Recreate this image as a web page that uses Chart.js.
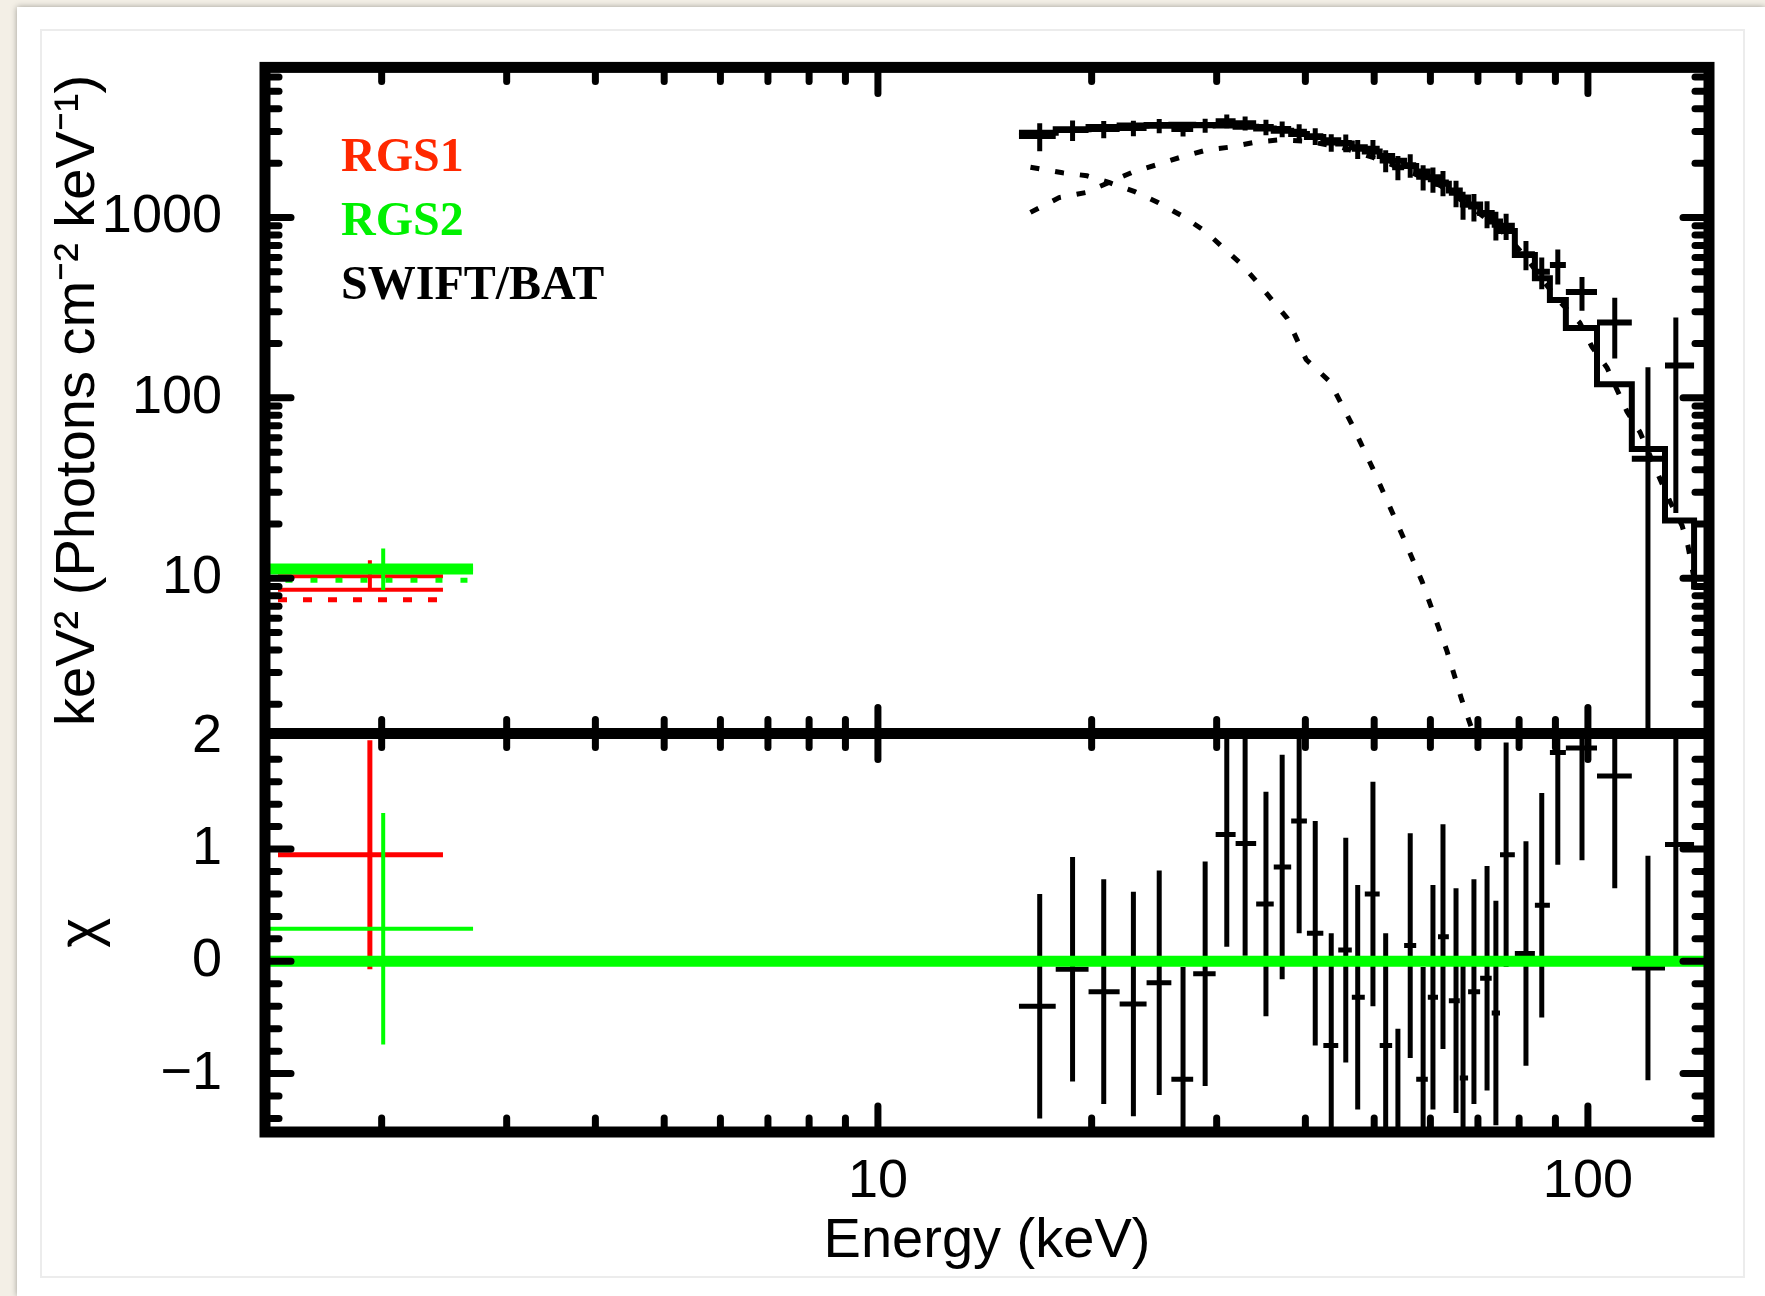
<!DOCTYPE html>
<html>
<head>
<meta charset="utf-8">
<title>RGS1, RGS2 and SWIFT/BAT spectrum</title>
<script src="https://cdn.jsdelivr.net/npm/chart.js@4.4.1/dist/chart.umd.min.js"></script>
<style>
    html, body { margin: 0; width: 1765px; height: 1296px; overflow: hidden; background: #f3efe6; }
    #sheet { position: absolute; left: 17px; top: 7px; width: 1748px; height: 1289px; background: #fff; box-shadow: 0 0 6px rgba(0, 0, 0, 0.35); }
    #inner { position: absolute; left: 40px; top: 29px; width: 1705px; height: 1249px; border: 2px solid #ececec; box-sizing: border-box; }
    canvas { position: absolute; left: 0; top: 0; }
</style>
</head>
<body>
<div id="sheet"></div>
<div id="inner"></div>
<canvas id="spectrum" width="1765" height="1296"></canvas>
<script>
"use strict";

/* axis ranges and labelled ticks */
var energyRange = [1.37, 148.1];
var fluxRange = [1.38, 6790];
var chiRange = [-1.52, 2.03];
var energyLabels = [10, 100];
var fluxLabels = [10, 100, 1000];
var chiLabels = [-1, 0, 1, 2];

/* legend */
var legendNames = ['RGS1', 'RGS2', 'SWIFT/BAT'];
var legendColors = ['#ff2800', '#00f000', '#000000'];

/* RGS1 / RGS2 : one broad bin each */
var rgsBinLo = [1.429, 1.35];
var rgsBinHi = [2.44, 2.69];
var rgsEnergy = [1.925, 2.01];
var rgsFlux = [10.26, 11.2];
var rgsFluxLo = [8.6, 8.6];
var rgsFluxHi = [12.6, 14.6];
var rgsModel = [8.62, 11.25];
var rgsComponent = [7.59, 9.75];
var rgsChi = [0.95, 0.29];
var rgsChiErr = [1.02, 1.03];

/* SWIFT/BAT bins (keV) */
var batEdges = [15.8, 17.8, 19.8, 21.9, 23.9, 25.9, 27.8, 29.9, 31.9, 34.1, 36.1, 38.2, 40.2, 42.4, 44.5, 46.5, 48.5, 50.9, 53.0,
    55.1, 57.3, 59.5, 61.5, 63.7, 66.0, 67.8, 70.5, 73.2, 75.2, 78.9, 84.2, 88.4, 93.1, 103.0, 115.3, 128.4, 141.1, 152];
var batEnergy = [16.9, 18.8, 20.8, 22.9, 24.9, 26.9, 28.9, 31.0, 32.9, 35.2, 37.1, 39.2, 41.3, 43.5, 45.6, 47.4, 49.8, 51.9,
    54.0, 56.2, 58.6, 60.5, 62.5, 65.2, 66.7, 69.1, 72.1, 74.2, 76.7, 81.8, 86.1, 90.7, 98.1, 109.1, 121.5, 133.0];
var batFlux = [2830, 3050, 3090, 3130, 3220, 3090, 3240, 3420, 3330, 3170, 3090, 2990, 2820, 2600, 2590, 2400, 2400, 2070,
    1900, 1950, 1680, 1630, 1560, 1370, 1180, 1150, 1050, 910, 900, 625, 500, 545, 386, 262, 46, 151];
var batFluxErr = [500, 400, 340, 310, 290, 280, 290, 300, 300, 310, 310, 300, 300, 290, 290, 290, 290, 290,
    290, 290, 270, 260, 250, 230, 210, 200, 180, 165, 150, 115, 100, 120, 82, 97, 102, 128];
var batModel = [2950, 3080, 3170, 3230, 3260, 3270, 3260, 3230, 3180, 3110, 3020, 2900, 2790, 2680, 2570, 2450, 2320, 2190,
    2060, 1930, 1800, 1670, 1540, 1410, 1290, 1180, 1060, 950, 840, 620, 461, 349, 244, 119, 52, 20.9, 9];
var batChi = [-0.40, -0.07, -0.27, -0.38, -0.19, -1.05, -0.11, 1.13, 1.05, 0.51, 0.84, 1.25, 0.25, -0.75, 0.10, -0.32, 0.60, -0.75,
    -1.60, 0.14, -1.05, -0.32, 0.22, -0.35, -1.04, -0.27, -0.15, -0.46, 0.95, 0.07, 0.50, 1.86, 1.90, 1.65, -0.06, 1.04];
var batChiErr = 1;

/* dotted model components */
var softEnergy = [16.4, 18.2, 19.7, 21.2, 23.0, 24.8, 26.9, 28.9, 30.6, 32.4, 34.2, 35.9, 37.7, 40.1, 43.3, 46.5, 49.8, 54.9, 58.4, 63.3, 66.4, 69.3];
var softFlux = [1900, 1770, 1703, 1558, 1390, 1210, 1013, 838, 684, 558, 439, 349, 277, 163, 123, 71.5, 40.4, 17, 9.6, 3.96, 2.13, 1.31];
var hardEnergy = [16.4, 18.0, 19.6, 22.9, 24.7, 26.8, 29.1, 31.5, 34.2, 36.8, 40.1, 45.0, 49.8, 56.0, 62.0, 69.0, 76.7, 81.8, 86.0, 90.7,
    97.4, 101.3, 106.4, 109.9, 113.5, 118.4, 126.3, 130.5, 135.7, 138.3, 141.5];
var hardFlux = [1067, 1288, 1373, 1791, 1959, 2168, 2370, 2462, 2624, 2692, 2650, 2450, 2150, 1800, 1500, 1120, 800, 600, 460, 350,
    261, 192, 147, 111, 84, 64.6, 35.6, 26.6, 19.6, 15.2, 9.4];

/* helpers: point lists broken by null gaps */
function hBars(lo, hi, y) {
    var pts = [];
    for (var i = 0; i < y.length; i++) {
        pts.push({ x: lo[i], y: y[i] }, { x: hi[i], y: y[i] }, { x: null, y: null });
    }
    return pts;
}
function vBars(x, lo, hi) {
    var pts = [];
    for (var i = 0; i < x.length; i++) {
        pts.push({ x: x[i], y: lo[i] }, { x: x[i], y: hi[i] }, { x: null, y: null });
    }
    return pts;
}
function steps(edges, vals) {
    var pts = [];
    for (var i = 0; i < vals.length; i++) {
        pts.push({ x: edges[i], y: vals[i] }, { x: edges[i + 1], y: vals[i] });
    }
    return pts;
}
function curve(xs, ys) {
    return xs.map(function (x, i) { return { x: x, y: ys[i] }; });
}
function ds(data, axis, color, width, order, extra) {
    return Object.assign({
        data: data, yAxisID: axis, borderColor: color, borderWidth: width, order: order,
        showLine: true, pointRadius: 0, fill: false, spanGaps: false, borderCapStyle: 'butt'
    }, extra || {});
}

var nBat = batFlux.length;
var batLo = batEdges.slice(0, nBat);
var batHi = batEdges.slice(1, nBat + 1);
var batFluxMin = batFlux.map(function (f, i) { return Math.max(f - batFluxErr[i], 0.5); });
var batFluxMax = batFlux.map(function (f, i) { return f + batFluxErr[i]; });
var batChiMin = batChi.map(function (c) { return c - batChiErr; });
var batChiMax = batChi.map(function (c) { return c + batChiErr; });
var dotted = { borderDash: [9, 16] };

var datasets = [
    /* residual zero line */
    ds(curve(energyRange, [0, 0]), 'yRes', '#00ff00', 11, 0),

    /* RGS2 (green) */
    ds(steps([rgsBinLo[1], rgsBinHi[1]], [rgsModel[1]]), 'ySpec', '#00ff00', 11, 1),
    ds(hBars([rgsBinLo[1]], [rgsBinHi[1]], [rgsFlux[1]]), 'ySpec', '#00ff00', 4, 2),
    ds(vBars([rgsEnergy[1]], [rgsFluxLo[1]], [rgsFluxHi[1]]), 'ySpec', '#00ff00', 4, 2),
    ds(steps([rgsBinLo[1], rgsBinHi[1]], [rgsComponent[1]]), 'ySpec', '#00ff00', 5, 2, { borderDash: [7, 18] }),
    ds(hBars([rgsBinLo[1]], [rgsBinHi[1]], [rgsChi[1]]), 'yRes', '#00ff00', 4, 2),
    ds(vBars([rgsEnergy[1]], [rgsChi[1] - rgsChiErr[1]], [rgsChi[1] + rgsChiErr[1]]), 'yRes', '#00ff00', 4, 2),

    /* RGS1 (red) */
    ds(steps([rgsBinLo[0], rgsBinHi[0]], [rgsModel[0]]), 'ySpec', '#ff0000', 4, 3),
    ds(hBars([rgsBinLo[0]], [rgsBinHi[0]], [rgsFlux[0]]), 'ySpec', '#ff0000', 4, 3),
    ds(vBars([rgsEnergy[0]], [rgsFluxLo[0]], [rgsFluxHi[0]]), 'ySpec', '#ff0000', 4, 3),
    ds(steps([rgsBinLo[0], rgsBinHi[0]], [rgsComponent[0]]), 'ySpec', '#ff0000', 5, 3, { borderDash: [9, 16] }),
    ds(hBars([rgsBinLo[0]], [rgsBinHi[0]], [rgsChi[0]]), 'yRes', '#ff0000', 5, 3),
    ds(vBars([rgsEnergy[0]], [rgsChi[0] - rgsChiErr[0]], [rgsChi[0] + rgsChiErr[0]]), 'yRes', '#ff0000', 5, 3),

    /* SWIFT/BAT (black) */
    ds(hBars(batLo, batHi, batFlux), 'ySpec', '#000', 6, 4),
    ds(vBars(batEnergy, batFluxMin, batFluxMax), 'ySpec', '#000', 5, 4),
    ds(steps(batEdges, batModel), 'ySpec', '#000', 6, 4),
    ds(curve(softEnergy, softFlux), 'ySpec', '#000', 5, 4, dotted),
    ds(curve(hardEnergy, hardFlux), 'ySpec', '#000', 5, 4, dotted),
    ds(hBars(batLo, batHi, batChi), 'yRes', '#000', 5, 4),
    ds(vBars(batEnergy, batChiMin, batChiMax), 'yRes', '#000', 5, 4)
];

/* tick marks (inward, on all sides of both panels) */
var energyMinor = [2, 3, 4, 5, 6, 7, 8, 9, 20, 30, 40, 50, 60, 70, 80, 90];
var fluxMinor = [];
[1, 10, 100, 1000].forEach(function (d) {
    for (var k = 2; k <= 9; k++) {
        if (k * d > fluxRange[0] && k * d < fluxRange[1]) fluxMinor.push(k * d);
    }
});
var chiMinor = [-1.4, -1.2, -0.8, -0.6, -0.4, -0.2, 0.2, 0.4, 0.6, 0.8, 1.2, 1.4, 1.6, 1.8];

/* each dataset is clipped to its own panel */
var panelClip = {
    id: 'panelClip',
    beforeDatasetDraw: function (chart, args) {
        var ctx = chart.ctx, a = chart.chartArea, y = args.meta.yScale;
        ctx.save();
        ctx.beginPath();
        ctx.rect(a.left, y.top, a.right - a.left, y.bottom - y.top);
        ctx.clip();
    },
    afterDatasetDraw: function (chart) {
        chart.ctx.restore();
    }
};

var frame = {
    id: 'frame',
    afterDatasetsDraw: function (chart) {
        var ctx = chart.ctx, a = chart.chartArea, s = chart.scales;
        var panels = [s.ySpec, s.yRes];
        ctx.save();
        ctx.strokeStyle = '#000';
        ctx.lineWidth = 7;
        ctx.lineCap = 'round';
        function tick(x1, y1, x2, y2) {
            ctx.beginPath(); ctx.moveTo(x1, y1); ctx.lineTo(x2, y2); ctx.stroke();
        }
        function xTicks(values, len) {
            values.forEach(function (v) {
                var px = s.x.getPixelForValue(v);
                panels.forEach(function (p) {
                    tick(px, p.top, px, p.top + len);
                    tick(px, p.bottom, px, p.bottom - len);
                });
            });
        }
        function yTicks(scale, values, len) {
            values.forEach(function (v) {
                var py = scale.getPixelForValue(v);
                if (py < scale.top + 4 || py > scale.bottom - 4) return;
                tick(a.left, py, a.left + len, py);
                tick(a.right, py, a.right - len, py);
            });
        }
        xTicks(energyMinor, 14);
        xTicks(energyLabels, 26);
        yTicks(s.ySpec, fluxMinor, 14);
        yTicks(s.ySpec, fluxLabels, 26);
        yTicks(s.yRes, chiMinor, 14);
        yTicks(s.yRes, chiLabels, 26);

        ctx.lineWidth = 11;
        ctx.lineCap = 'butt';
        ctx.strokeRect(a.left, a.top, a.right - a.left, a.bottom - a.top);
        ctx.beginPath();
        ctx.moveTo(a.left, s.yRes.top);
        ctx.lineTo(a.right, s.yRes.top);
        ctx.stroke();
        ctx.restore();
    }
};

var legendText = {
    id: 'legendText',
    afterDraw: function (chart) {
        var ctx = chart.ctx, a = chart.chartArea;
        ctx.save();
        ctx.font = 'bold 48px "Liberation Serif", serif';
        ctx.textBaseline = 'alphabetic';
        legendNames.forEach(function (name, i) {
            ctx.fillStyle = legendColors[i];
            ctx.fillText(name, a.left + 76, a.top + 104 + i * 64);
        });
        ctx.restore();
    }
};

var sans = '"Liberation Sans", Arial, sans-serif';
var tickFont = { family: sans, size: 54 };
function label(v) {
    return v < 0 ? '\u2212' + (-v) : String(v);
}

// left-side stacked axes are laid out in reverse order: yRes is listed first so ySpec ends up on top
var spectrum = new Chart(document.getElementById('spectrum').getContext('2d'), {
    type: 'scatter',
    data: { datasets: datasets },
    options: {
        responsive: false,
        animation: false,
        events: [],
        layout: { padding: { left: 40, right: 56, top: 61, bottom: 0 } },
        plugins: { legend: { display: false }, tooltip: { enabled: false } },
        scales: {
            x: {
                type: 'logarithmic', position: 'bottom', bounds: 'data',
                min: energyRange[0], max: energyRange[1],
                grid: { display: false }, border: { display: false },
                afterBuildTicks: function (sc) { sc.ticks = energyLabels.map(function (v) { return { value: v }; }); },
                afterFit: function (sc) { sc.height = 164; },
                ticks: { font: tickFont, color: '#000', padding: 10, autoSkip: false, maxRotation: 0, callback: label },
                title: {
                    display: true, text: 'Energy (keV)', color: '#000',
                    font: { family: sans, size: 56, lineHeight: 1 }, padding: { top: 0, bottom: 26 }
                }
            },
            yRes: {
                type: 'linear', position: 'left', stack: 'panels', stackWeight: 401, bounds: 'data',
                min: chiRange[0], max: chiRange[1],
                grid: { display: false }, border: { display: false },
                afterBuildTicks: function (sc) { sc.ticks = chiLabels.map(function (v) { return { value: v }; }); },
                afterFit: function (sc) { sc.width = 225; },
                ticks: { font: tickFont, color: '#000', padding: 35, autoSkip: false, callback: label },
                title: {
                    display: true, text: '\u03c7', color: '#000',
                    font: { family: sans, size: 57, lineHeight: 1 }, padding: { top: 14, bottom: 0 }
                }
            },
            ySpec: {
                type: 'logarithmic', position: 'left', stack: 'panels', stackWeight: 670, bounds: 'data',
                min: fluxRange[0], max: fluxRange[1],
                grid: { display: false }, border: { display: false },
                afterBuildTicks: function (sc) { sc.ticks = fluxLabels.map(function (v) { return { value: v }; }); },
                afterFit: function (sc) { sc.width = 225; },
                ticks: { font: tickFont, color: '#000', padding: 35, autoSkip: false, callback: label },
                title: {
                    display: true, text: 'keV\u00b2 (Photons cm\u207b\u00b2 keV\u207b\u00b9)', color: '#000',
                    font: { family: sans, size: 56, lineHeight: 1 }, padding: { top: 11, bottom: 0 }
                }
            }
        }
    },
    plugins: [panelClip, frame, legendText]
});
</script>
</body>
</html>
